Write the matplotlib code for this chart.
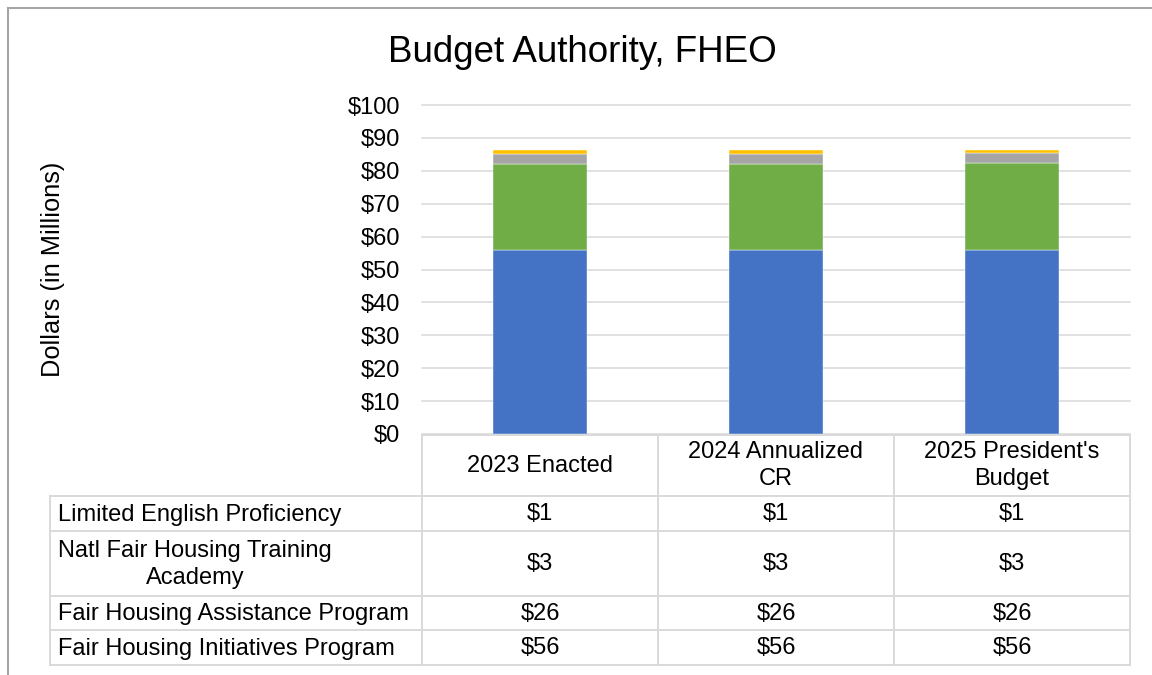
import numpy as np
import matplotlib.pyplot as plt

plt.rcParams['font.family'] = ['Liberation Sans', 'DejaVu Sans']

# Data (in $ millions), stacked bottom-up
categories = ['2023 Enacted', '2024 Annualized\nCR', "2025 President's\nBudget"]
programs = ['Fair Housing Initiatives Program', 'Fair Housing Assistance Program',
            'Natl Fair Housing Training\nAcademy', 'Limited English Proficiency']
fhip = [56, 56, 56]
fhap = [26, 26, 26.3]
academy = [3, 3, 3]
lep = [1.4, 1.4, 1.1]
series = [fhip, fhap, academy, lep]
colors = ['#4472C4', '#70AD47', '#A5A5A5', '#FFC000']

W, H = 1152, 675
fig = plt.figure(figsize=(W / 100, H / 100), dpi=100)


def fx(px):
    return px / W


def fy(py):
    return 1 - py / H


# plot area
left, right, top, bot = 422, 1130, 105, 434
ax = fig.add_axes([fx(left), fy(bot), fx(right) - fx(left), fy(top) - fy(bot)])

x = np.arange(len(categories))
bottom = np.zeros(len(categories))
for vals, c in zip(series, colors):
    ax.bar(x, vals, 0.4, bottom=bottom, color=c, edgecolor='white', linewidth=0.3, zorder=3)
    bottom += np.array(vals)

ax.set_xlim(-0.5, 2.5)
ax.set_ylim(0, 100)
ax.set_yticks(np.arange(0, 101, 10))
ax.yaxis.set_major_formatter(lambda v, p: f'${v:.0f}')
ax.grid(axis='y', color='#D9D9D9', lw=1.1, zorder=0)
for gl in ax.get_ygridlines():
    gl.set_clip_on(False)
ax.set_axisbelow(True)
for s in ax.spines.values():
    s.set_visible(False)
ax.set_xticks([])
ax.tick_params(length=0, labelsize=17, pad=16)
ax.set_ylabel('Dollars (in Millions)', fontsize=18.3)
ax.yaxis.set_label_coords(-0.504, 0.5)

fig.text(fx(582), fy(52), 'Budget Authority, FHEO', fontsize=26.5, ha='center', va='center')

# data table drawn on an overlay in pixel coords
ov = fig.add_axes([0, 0, 1, 1], zorder=-1)
ov.set_xlim(0, W)
ov.set_ylim(H, 0)
ov.axis('off')

grid_c = '#D9D9D9'
lw = 1.4
col_w = (right - left) / len(categories)
col_edges = [left + i * col_w for i in range(len(categories) + 1)]
row_edges = [435, 496, 531, 596, 630, 665]
lab_left = 50

ov.plot([left, right], [row_edges[0]] * 2, color=grid_c, lw=lw)
for y in row_edges[1:]:
    ov.plot([lab_left, right], [y, y], color=grid_c, lw=lw)
for xe in col_edges:
    ov.plot([xe, xe], [row_edges[0], row_edges[-1]], color=grid_c, lw=lw)
ov.plot([lab_left, lab_left], [row_edges[1], row_edges[-1]], color=grid_c, lw=lw)

# header
for i, cat in enumerate(categories):
    cx = left + (i + 0.5) * col_w
    ov.text(cx, (row_edges[0] + row_edges[1]) / 2, cat, fontsize=17, ha='center',
            va='center', multialignment='center', linespacing=1.25)

# rows: top row is the last stacked series
for r, k in enumerate(range(len(series) - 1, -1, -1)):
    cy = (row_edges[r + 1] + row_edges[r + 2]) / 2 + 1
    ov.text(58, cy, programs[k], fontsize=17, ha='left', va='center',
            multialignment='center', linespacing=1.25)
    for i, v in enumerate(series[k]):
        cx = left + (i + 0.5) * col_w
        ov.text(cx, cy, f'${v:.0f}', fontsize=17, ha='center', va='center')

# chart frame (cropped at right/bottom)
ov.plot([8, 8], [8, H], color='#A6A6A6', lw=1.5)
ov.plot([8, W], [8, 8], color='#A6A6A6', lw=1.5)

fig.savefig('out.png', dpi=100)
